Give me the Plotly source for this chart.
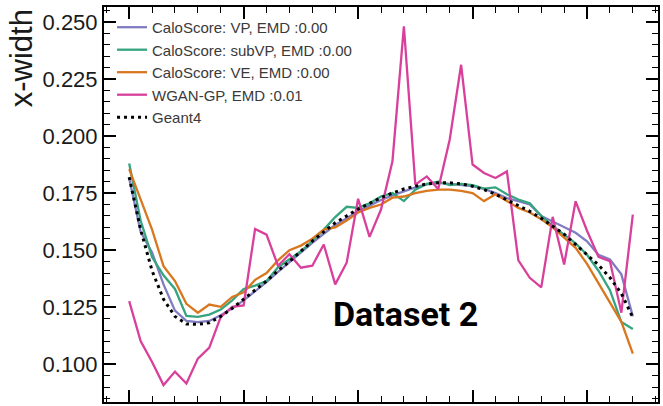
import plotly.graph_objects as go

layers = list(range(45))

geant4 = [0.182, 0.159, 0.141, 0.1285, 0.121, 0.1177, 0.1175, 0.1182, 0.121, 0.1245,
          0.1285, 0.1325, 0.1365, 0.141, 0.145, 0.1495, 0.154, 0.158, 0.162, 0.165,
          0.168, 0.1705, 0.173, 0.175, 0.1768, 0.178, 0.179, 0.1795, 0.1795, 0.179,
          0.178, 0.1765, 0.1745, 0.172, 0.1695, 0.167, 0.164, 0.1605, 0.157, 0.1525,
          0.148, 0.1435, 0.138, 0.131, 0.1205]

vp = [0.1815, 0.158, 0.149, 0.135, 0.1235, 0.119, 0.1185, 0.119, 0.1215, 0.1245,
      0.128, 0.132, 0.136, 0.1405, 0.1448, 0.149, 0.1532, 0.1572, 0.161, 0.164,
      0.167, 0.1695, 0.172, 0.174, 0.1758, 0.1775, 0.1788, 0.1795, 0.179, 0.1785,
      0.178, 0.1768, 0.175, 0.1728, 0.1715, 0.17, 0.165, 0.1625, 0.1603, 0.1576,
      0.1539, 0.148, 0.1459, 0.1394, 0.121]

subvp = [0.188, 0.163, 0.147, 0.139, 0.133, 0.1212, 0.1208, 0.1218, 0.124, 0.128,
         0.133, 0.1345, 0.1365, 0.1425, 0.146, 0.1495, 0.154, 0.159, 0.1645, 0.169,
         0.1685, 0.1705, 0.1735, 0.175, 0.1715, 0.1765, 0.179, 0.18, 0.1785, 0.179,
         0.1785, 0.177, 0.1775, 0.1745, 0.1722, 0.1705, 0.165, 0.1605, 0.1568, 0.153,
         0.148, 0.141, 0.1325, 0.1185, 0.1155]

ve = [0.1855, 0.172, 0.159, 0.143, 0.1365, 0.1265, 0.1226, 0.1262, 0.1252, 0.1295,
      0.1315, 0.137, 0.14, 0.1455, 0.15, 0.152, 0.155, 0.159, 0.16, 0.163,
      0.1665, 0.1685, 0.17, 0.173, 0.1735, 0.175, 0.176, 0.1765, 0.1765, 0.176,
      0.175, 0.1715, 0.1745, 0.1715, 0.1685, 0.1665, 0.1635, 0.16, 0.1554, 0.151,
      0.144, 0.1357, 0.127, 0.1186, 0.1047]

wgan = [0.1277, 0.1102, 0.101, 0.0909, 0.0968, 0.0916, 0.1025, 0.1073, 0.1208, 0.1252,
        0.1258, 0.1593, 0.1568, 0.1432, 0.1482, 0.1423, 0.1432, 0.1525, 0.135, 0.1445,
        0.1725, 0.1558, 0.1678, 0.1889, 0.248, 0.1787, 0.1823, 0.1768, 0.1984, 0.2312,
        0.1875, 0.1838, 0.1816, 0.1845, 0.1455, 0.1379, 0.1337, 0.1646, 0.1437, 0.1714,
        0.1585, 0.1471, 0.1452, 0.1226, 0.1656]

series = [
    ("CaloScore: VP, EMD :0.00", vp, "#807cc2"),
    ("CaloScore: subVP, EMD :0.00", subvp, "#35a47f"),
    ("CaloScore: VE, EMD :0.00", ve, "#d9771f"),
    ("WGAN-GP, EMD :0.01", wgan, "#d8409c"),
]

fig = go.Figure()
for name, vals, color in series:
    fig.add_trace(go.Scatter(x=layers, y=vals, mode="lines", name=name,
                             line=dict(color=color, width=2.3)))
fig.add_trace(go.Scatter(x=layers, y=geant4, mode="lines", name="Geant4",
                         line=dict(color="black", width=3, dash="3px,4px")))

axis_common = dict(showline=True, linecolor="black", linewidth=2, mirror="allticks",
                   ticks="inside", tickcolor="black", tickwidth=1.5, ticklen=12,
                   showgrid=False, zeroline=False)

fig.update_xaxes(range=[-2.2, 46.2], dtick=10, tick0=0, showticklabels=False,
                 minor=dict(dtick=2, ticks="inside", ticklen=6, tickcolor="black", tickwidth=1.2),
                 **axis_common)
fig.update_yaxes(range=[0.0835, 0.2565], dtick=0.025, tick0=0.1, tickformat=".3f",
                 tickfont=dict(family="Liberation Sans, Arial", size=22, color="#1a1a1a"),
                 minor=dict(dtick=0.005, ticks="inside", ticklen=6, tickcolor="black", tickwidth=1.2),
                 **axis_common)

fig.add_annotation(text="x-width", xref="paper", yref="paper", x=-0.15, y=0.87,
                   textangle=-90, showarrow=False, xanchor="center", yanchor="middle",
                   font=dict(family="Liberation Sans, Arial", size=31, color="#1a1a1a"))
fig.add_annotation(text="<b>Dataset 2</b>", xref="paper", yref="paper", x=0.545, y=0.223,
                   showarrow=False, xanchor="center", yanchor="middle",
                   font=dict(family="Roboto", size=34, color="black"))

fig.update_layout(
    width=663, height=406,
    margin=dict(l=104, r=3, t=7, b=4),
    plot_bgcolor="white", paper_bgcolor="white",
    legend=dict(x=0.0145, y=0.99, xanchor="left", yanchor="top",
                bgcolor="rgba(0,0,0,0)", itemwidth=30,
                font=dict(family="Liberation Sans, Arial", size=15, color="#3a3a3a")),
)

fig.write_html("out.html")
